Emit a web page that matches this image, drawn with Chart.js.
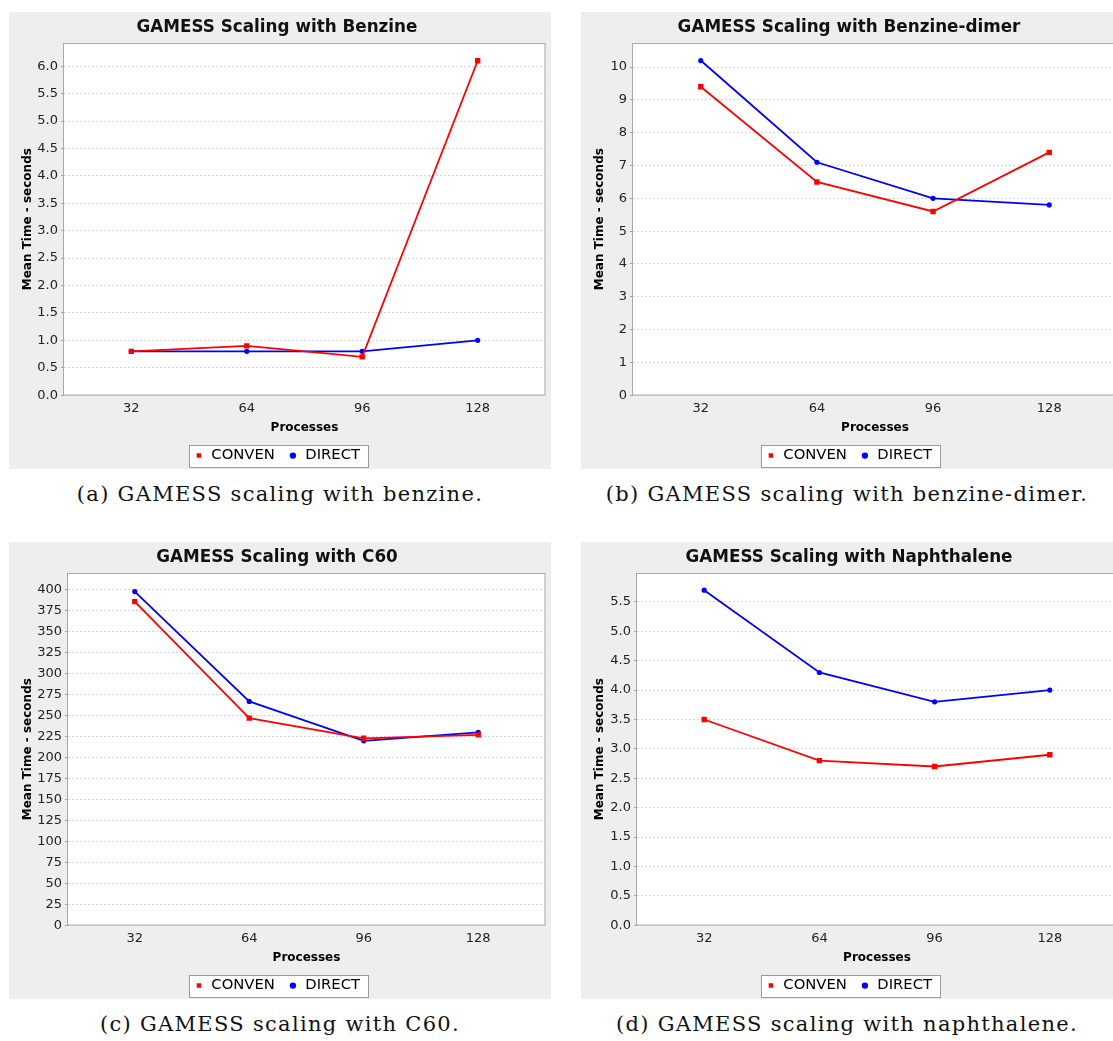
<!DOCTYPE html>
<html>
<head>
<meta charset="utf-8">
<script src="https://cdn.jsdelivr.net/npm/chart.js@4.4.1/dist/chart.umd.min.js"></script>
<style>
  html, body { margin:0; padding:0; background:#ffffff; overflow:hidden; width:1113px; height:1041px; }
  .panel { position:absolute; width:542px; height:457px; }
  .panel canvas { display:block; }
  .cap { position:absolute; width:600px; text-align:center; font-family:"DejaVu Serif", serif; font-size:21px; line-height:21px; letter-spacing:1.3px; color:#111; white-space:nowrap; }
</style>
</head>
<body>
<div class="panel" style="left:9px;top:12px"><canvas id="cA" width="542" height="457"></canvas></div>
<div class="panel" style="left:581px;top:12px"><canvas id="cB" width="542" height="457"></canvas></div>
<div class="panel" style="left:9px;top:542px"><canvas id="cC" width="542" height="457"></canvas></div>
<div class="panel" style="left:581px;top:542px"><canvas id="cD" width="542" height="457"></canvas></div>
<div class="cap" id="capA" style="left:-20px;top:484px"></div>
<div class="cap" id="capB" style="left:547px;top:484px"></div>
<div class="cap" id="capC" style="left:-20px;top:1014px"></div>
<div class="cap" id="capD" style="left:547px;top:1014px"></div>
<script>
// ---------- data ----------
const categories = [32, 64, 96, 128];
const seriesNames = ['CONVEN', 'DIRECT'];

const benzineConven = [0.8, 0.9, 0.7, 6.1];
const benzineDirect = [0.8, 0.8, 0.8, 1.0];

const dimerConven = [9.4, 6.5, 5.6, 7.4];
const dimerDirect = [10.2, 7.1, 6.0, 5.8];

const c60Conven = [386, 247, 223, 227];
const c60Direct = [398, 267, 220, 230];

const naphConven = [3.5, 2.8, 2.7, 2.9];
const naphDirect = [5.7, 4.3, 3.8, 4.0];

const chartTitles = [
  'GAMESS Scaling with Benzine',
  'GAMESS Scaling with Benzine-dimer',
  'GAMESS Scaling with C60',
  'GAMESS Scaling with Naphthalene'
];
const captions = [
  '(a) GAMESS scaling with benzine.',
  '(b) GAMESS scaling with benzine-dimer.',
  '(c) GAMESS scaling with C60.',
  '(d) GAMESS scaling with naphthalene.'
];
const yMaxes = [6.42, 10.73, 420, 5.99];
const ySteps = [0.5, 1, 25, 0.5];
const yDecimals = [1, 0, 0, 1];
const xTitle = 'Processes';
const yTitle = 'Mean Time - seconds';

// ---------- helpers ----------
const FONT = 'DejaVu Sans';

const decor = {
  id: 'decor',
  beforeDraw(chart) {
    const {ctx, chartArea: a, width, height} = chart;
    ctx.save();
    ctx.fillStyle = '#eeeeee';
    ctx.fillRect(0, 0, width, height);
    ctx.fillStyle = '#ffffff';
    ctx.fillRect(a.left, a.top, a.right - a.left, a.bottom - a.top);
    const hb = chart.legend && chart.legend.legendHitBoxes;
    if (hb && hb.length) {
      const first = hb[0], last = hb[hb.length - 1];
      const cy = first.top + first.height / 2;
      const l = Math.round(first.left - 5) + 0.5;
      const r = Math.round(last.left + last.width + 8) + 0.5;
      const t = Math.round(cy - 11) + 0.5;
      const b = Math.round(cy + 11) + 0.5;
      ctx.fillStyle = '#ffffff';
      ctx.fillRect(l, t, r - l, b - t);
      ctx.strokeStyle = '#9a9a9a';
      ctx.lineWidth = 1;
      ctx.strokeRect(l, t, r - l, b - t);
    }
    ctx.restore();
  },
  beforeDatasetsDraw(chart) {
    const {ctx, chartArea: a} = chart;
    ctx.save();
    ctx.strokeStyle = '#a8a8a8';
    ctx.lineWidth = 1;
    ctx.strokeRect(Math.round(a.left) - 0.5, Math.round(a.top) + 0.5,
                   Math.round(a.right - a.left) + 0.5, Math.round(a.bottom - a.top) - 0.5);
    ctx.restore();
  }
};

function makeChart(id, idx, conven, direct, yWidth) {
  const step = categories[1] - categories[0];
  const span = step / 0.24;
  const xMin = categories[0] - 0.14 * span;
  const xMax = xMin + span;
  const toPts = arr => categories.map((c, i) => ({x: c, y: arr[i]}));
  const dec = yDecimals[idx];
  return new Chart(document.getElementById(id), {
    type: 'line',
    data: {
      datasets: [
        { label: seriesNames[0], data: toPts(conven), borderColor: '#ff0000', backgroundColor: '#ff0000',
          borderWidth: 1.8, pointStyle: 'rect', pointRadius: 3.8, pointBorderWidth: 0, tension: 0 },
        { label: seriesNames[1], data: toPts(direct), borderColor: '#0000ff', backgroundColor: '#0000ff',
          borderWidth: 1.8, pointStyle: 'circle', pointRadius: 2.6, pointBorderWidth: 0, tension: 0 }
      ]
    },
    options: {
      responsive: false,
      animation: false,
      devicePixelRatio: 1,
      layout: { padding: { left: 0, right: 6, top: 0, bottom: -4 } },
      plugins: {
        title: { display: true, text: chartTitles[idx], color: '#111',
                 font: { family: FONT, size: 16.8, weight: 'bold' }, padding: { top: 6, bottom: 5 } },
        legend: { display: true, position: 'bottom',
                  labels: { usePointStyle: true, boxWidth: 10, boxHeight: 4.5, padding: 13, color: '#000',
                            font: { family: FONT, size: 14.8 } } },
        tooltip: { enabled: false }
      },
      scales: {
        x: {
          type: 'linear', min: xMin, max: xMax,
          afterBuildTicks: s => { s.ticks = categories.map(v => ({ value: v })); },
          afterFit: s => { s.height = 40; },
          grid: { display: false, drawTicks: false },
          border: { display: false },
          ticks: { padding: 6, color: '#222', font: { family: FONT, size: 13 }, callback: v => String(v), maxRotation: 0 },
          title: { display: true, text: xTitle, color: '#000', font: { family: FONT, size: 12, weight: 'bold' },
                   padding: { top: 0, bottom: 0 } }
        },
        y: {
          min: 0, max: yMaxes[idx],
          afterFit: s => { s.width = yWidth; },
          grid: { color: '#d6d6d6', lineWidth: 1,
                  drawTicks: true, tickLength: 3, tickColor: '#a0a0a0', tickBorderDash: [] },
          border: { display: false, dash: [2, 2] },
          ticks: { stepSize: ySteps[idx], includeBounds: false, padding: 3, color: '#222',
                   font: { family: FONT, size: 13 }, callback: v => Number(v).toFixed(dec) },
          title: { display: true, text: yTitle, color: '#000', font: { family: FONT, size: 12, weight: 'bold' },
                   padding: { top: 12, bottom: 0 } }
        }
      }
    },
    plugins: [decor]
  });
}

makeChart('cA', 0, benzineConven, benzineDirect, 55);
makeChart('cB', 1, dimerConven, dimerDirect, 52);
makeChart('cC', 2, c60Conven, c60Direct, 59);
makeChart('cD', 3, naphConven, naphDirect, 56);

document.getElementById('capA').textContent = captions[0];
document.getElementById('capB').textContent = captions[1];
document.getElementById('capC').textContent = captions[2];
document.getElementById('capD').textContent = captions[3];
</script>
</body>
</html>
